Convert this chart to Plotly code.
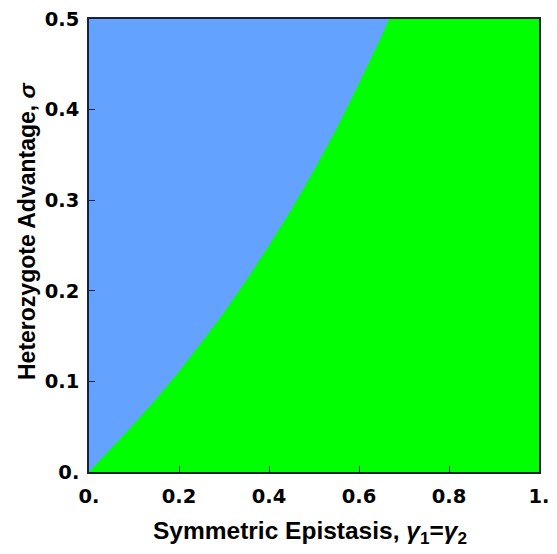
import plotly.graph_objects as go

# Boundary between the two regions
gamma_boundary = [0.0, 0.05, 0.1, 0.15, 0.2, 0.25, 0.3, 0.35, 0.4, 0.45, 0.5, 0.55, 0.6, 0.65, 0.667]
sigma_boundary = [0.0, 0.026, 0.053, 0.081, 0.111, 0.143, 0.176, 0.212, 0.25, 0.290, 0.333, 0.379, 0.429, 0.481, 0.5]

x_range = [0.0, 1.0]
y_range = [0.0, 0.5]
x_tickvals = [0.0, 0.2, 0.4, 0.6, 0.8, 1.0]
x_ticktext = ["0.", "0.2", "0.4", "0.6", "0.8", "1."]
y_tickvals = [0.0, 0.1, 0.2, 0.3, 0.4, 0.5]
y_ticktext = ["0.", "0.1", "0.2", "0.3", "0.4", "0.5"]

BLUE = "#64A2FF"
GREEN = "#00FF00"
FRAME = "#1B2238"

# Blue region: above the boundary
blue_x = [x_range[0]] + gamma_boundary + [x_range[0]]
blue_y = [y_range[0]] + sigma_boundary + [y_range[1]]
# Green region: below the boundary
green_x = gamma_boundary + [x_range[1], x_range[1]]
green_y = sigma_boundary + [y_range[1], y_range[0]]

fig = go.Figure()
fig.add_trace(go.Scatter(x=blue_x, y=blue_y, fill="toself", fillcolor=BLUE,
                         mode="lines", line=dict(width=0, color=BLUE), hoverinfo="skip"))
fig.add_trace(go.Scatter(x=green_x, y=green_y, fill="toself", fillcolor=GREEN,
                         mode="lines", line=dict(width=0, color=GREEN), hoverinfo="skip"))

tickfont = dict(family="DejaVu Sans, sans-serif", size=19.5, color="black", weight="bold")

fig.update_layout(
    width=557, height=554,
    margin=dict(l=89, r=8, t=12, b=82),
    paper_bgcolor="white",
    plot_bgcolor=BLUE,
    showlegend=False,
    xaxis=dict(range=x_range, tickvals=x_tickvals, ticktext=x_ticktext,
               ticks="inside", ticklen=6, tickwidth=1.2, tickcolor=FRAME,
               showline=True, linecolor=FRAME, linewidth=1.5, mirror=True,
               showgrid=False, zeroline=False, tickfont=tickfont, ticklabelstandoff=6,
               ticklabeloverflow="allow"),
    yaxis=dict(range=y_range, tickvals=y_tickvals, ticktext=y_ticktext,
               ticks="inside", ticklen=6, tickwidth=1.2, tickcolor=FRAME,
               showline=True, linecolor=FRAME, linewidth=1.5, mirror=True,
               showgrid=False, zeroline=False, tickfont=tickfont, ticklabelstandoff=4,
               ticklabeloverflow="allow"),
)

fig.add_annotation(text="Symmetric Epistasis, <i>γ</i><sub>1</sub>=<i>γ</i><sub>2</sub>",
                   xref="paper", yref="paper", x=0.49, y=-0.134, xanchor="center", yanchor="middle",
                   showarrow=False,
                   font=dict(family="Liberation Sans, Arial, sans-serif", size=24.5, color="black", weight="bold"))
fig.add_annotation(text="Heterozygote Advantage, <i>σ</i>",
                   xref="paper", yref="paper", x=-0.139, y=0.533, xanchor="center", yanchor="middle",
                   textangle=-90, showarrow=False,
                   font=dict(family="Liberation Sans, Arial, sans-serif", size=23, color="black", weight="bold"))

fig.write_html("out.html")
